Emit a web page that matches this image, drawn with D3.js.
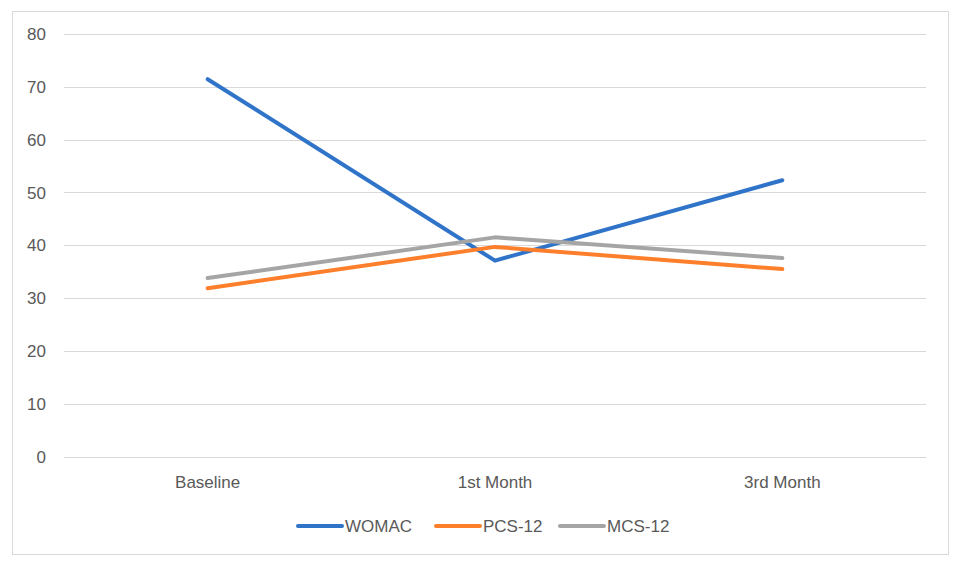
<!DOCTYPE html>
<html>
<head>
<meta charset="utf-8">
<script src="https://cdn.jsdelivr.net/npm/d3@7"></script>
<style>
  body { margin: 0; background: #fff; }
  .axis-text { font-family: "Liberation Sans", Arial, sans-serif; font-size: 17px; fill: #595959; }
</style>
</head>
<body>
<div id="chart"></div>
<script>
// chart data
const categories = ["Baseline", "1st Month", "3rd Month"];
const seriesNames = ["WOMAC", "PCS-12", "MCS-12"];
const womac = [71.4, 37.1, 52.3];
const pcs12 = [31.9, 39.7, 35.5];
const mcs12 = [33.8, 41.5, 37.6];
const yTicks = [0, 10, 20, 30, 40, 50, 60, 70, 80];

const colors = ["#2f74c8", "#fd7f2c", "#a5a5a5"];
const seriesValues = [womac, pcs12, mcs12];

const width = 960, height = 567;

const svg = d3.select("#chart")
  .append("svg")
  .attr("width", width)
  .attr("height", height);

// outer frame
svg.append("rect")
  .attr("x", 12.5)
  .attr("y", 11.5)
  .attr("width", 936)
  .attr("height", 543)
  .attr("fill", "#fff")
  .attr("stroke", "#d9d9d9");

const x = d3.scalePoint()
  .domain(categories)
  .range([64, 926])
  .padding(0.5);

const y = d3.scaleLinear()
  .domain([0, 80])
  .range([456.9, 33.7]);

// gridlines
svg.append("g")
  .selectAll("line")
  .data(yTicks)
  .enter()
  .append("line")
  .attr("x1", 64)
  .attr("x2", 926)
  .attr("y1", d => Math.round(y(d)) + 0.5)
  .attr("y2", d => Math.round(y(d)) + 0.5)
  .attr("stroke", "#d9d9d9")
  .attr("stroke-width", 1);

// y tick labels
svg.append("g")
  .selectAll("text")
  .data(yTicks)
  .enter()
  .append("text")
  .attr("class", "axis-text")
  .attr("x", 46)
  .attr("y", d => y(d))
  .attr("dy", "0.36em")
  .style("text-anchor", "end")
  .text(d => d);

// category labels
svg.append("g")
  .selectAll("text")
  .data(categories)
  .enter()
  .append("text")
  .attr("class", "axis-text")
  .attr("x", d => x(d))
  .attr("y", 482)
  .attr("dy", "0.36em")
  .style("text-anchor", "middle")
  .text(d => d);

// lines
const line = d3.line()
  .x((d, i) => x(categories[i]))
  .y(d => y(d));

svg.append("g")
  .selectAll("path")
  .data(seriesValues)
  .enter()
  .append("path")
  .attr("d", d => line(d))
  .attr("fill", "none")
  .attr("stroke", (d, i) => colors[i])
  .attr("stroke-width", 4)
  .attr("stroke-linecap", "round")
  .attr("stroke-linejoin", "round");

// legend
const legendX = [298, 436, 560];
const legend = svg.append("g")
  .selectAll("g")
  .data(seriesNames)
  .enter()
  .append("g")
  .attr("transform", (d, i) => `translate(${legendX[i]}, 526)`);

legend.append("line")
  .attr("x1", 0)
  .attr("x2", 44)
  .attr("y1", 0)
  .attr("y2", 0)
  .attr("stroke", (d, i) => colors[i])
  .attr("stroke-width", 4)
  .attr("stroke-linecap", "round");

legend.append("text")
  .attr("class", "axis-text")
  .attr("x", 47)
  .attr("y", 0)
  .attr("dy", "0.36em")
  .text(d => d);
</script>
</body>
</html>
